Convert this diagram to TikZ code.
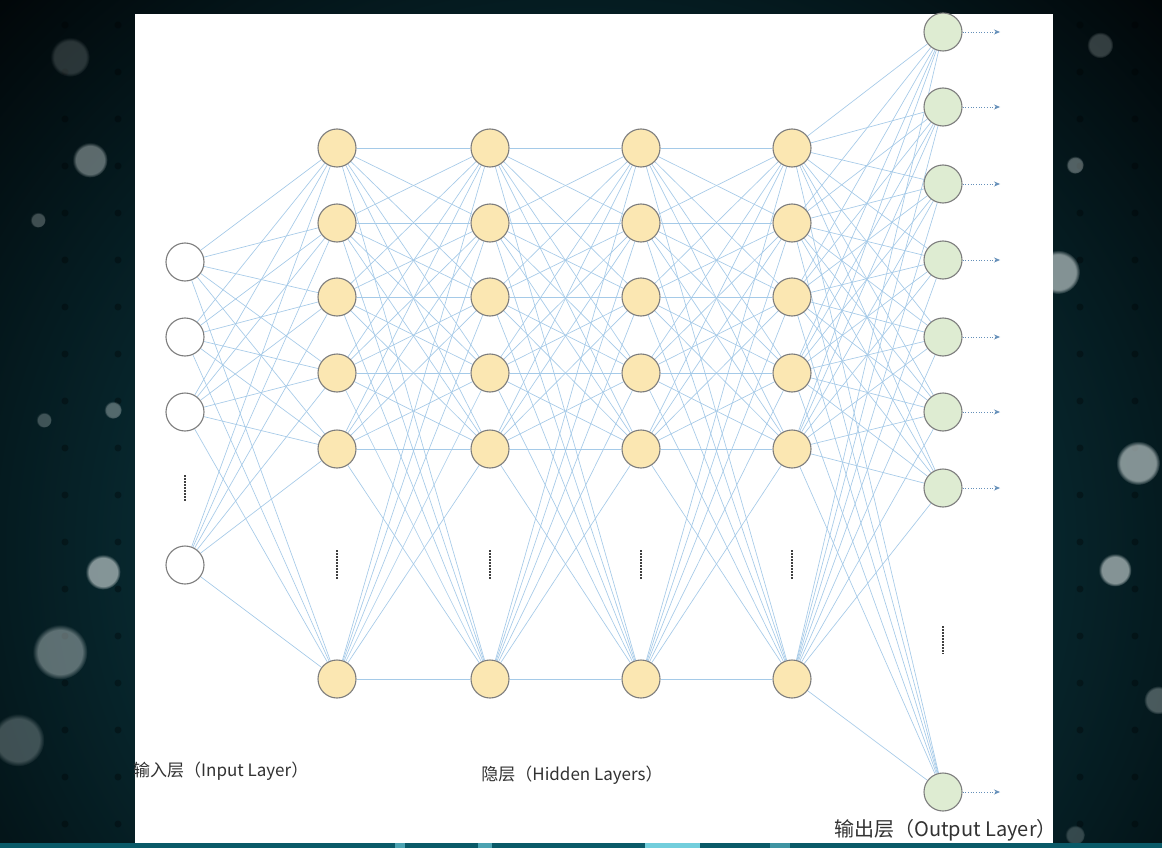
\documentclass[tikz,border=0pt]{standalone}
\usepackage{fontspec}
\setmainfont{Noto Sans CJK SC}
\usetikzlibrary{arrows.meta,fadings}
\pgfdeclarelayer{back}
\pgfdeclarelayer{edges}
\pgfsetlayers{back,edges,main}
\definecolor{linkblue}{RGB}{165,202,232}
\definecolor{hidfill}{RGB}{251,231,178}
\definecolor{outfill}{RGB}{222,236,210}
\definecolor{ringgray}{RGB}{125,125,125}
\definecolor{arrowblue}{RGB}{90,150,210}
\definecolor{bgteal}{RGB}{14,78,90}
\definecolor{bgdark}{RGB}{1,5,7}
\definecolor{stripteal}{RGB}{10,90,104}
\definecolor{stripcyan}{RGB}{140,235,250}
\definecolor{labelgray}{RGB}{50,50,50}
\definecolor{bokehgray}{RGB}{200,210,210}
\tikzset{
  neuron/.style={circle, draw=ringgray, line width=1.1pt, minimum size=38pt, inner sep=0pt},
  inneuron/.style={neuron, fill=white},
  hidneuron/.style={neuron, fill=hidfill},
  outneuron/.style={neuron, fill=outfill},
  link/.style={draw=linkblue, line width=0.65pt},
  outarrow/.style={draw=arrowblue!70!gray, line width=0.7pt, dotted, -{Stealth[length=6pt,width=5pt]}},
  vdots/.style={draw=black!75, line width=1.6pt, dash pattern=on 1.5pt off 1.5pt},
  layerlabel/.style={text=labelgray, inner sep=0pt},
}
\newcommand{\bokehdot}[4]{%
  \fill[bokehgray, opacity=#4, path fading=circle with fuzzy edge 20 percent] (#1,#2) circle (#3*1.1);
}
\begin{document}
\begin{tikzpicture}[x=1pt, y=-1pt]
\useasboundingbox (0,0) rectangle (1162,848);
\begin{pgfonlayer}{back}
  \fill[bgdark] (0,0) rectangle (1162,848);
  \shade[inner color=bgteal, outer color=bgdark] (-250,-250) rectangle (1412,1350);
  % dark dot grid
  \foreach \y in {25,72,...,840}{
    \fill[black, opacity=0.3] (65,\y) circle (3.5);
    \fill[black, opacity=0.3] (118,\y) circle (3.5);
    \fill[black, opacity=0.3] (1080,\y) circle (3.5);
    \fill[black, opacity=0.3] (1135,\y) circle (3.5);
  }
  \bokehdot{70}{57}{18}{0.2}
  \bokehdot{90}{160}{16}{0.45}
  \bokehdot{38}{220}{7}{0.3}
  \bokehdot{44}{420}{7}{0.3}
  \bokehdot{113}{410}{8}{0.4}
  \bokehdot{103}{572}{16}{0.65}
  \bokehdot{60}{652}{25}{0.45}
  \bokehdot{18}{740}{24}{0.3}
  \bokehdot{1100}{45}{12}{0.25}
  \bokehdot{1075}{165}{8}{0.4}
  \bokehdot{1058}{272}{20}{0.65}
  \bokehdot{1138}{463}{20}{0.65}
  \bokehdot{1115}{570}{15}{0.65}
  \bokehdot{1158}{700}{13}{0.35}
  \bokehdot{1075}{835}{9}{0.25}
  % bottom light strip
  \fill[stripteal] (0,843) rectangle (1162,848);
  \fill[stripcyan, opacity=0.8] (645,843) rectangle (700,848);
  \fill[stripcyan, opacity=0.5] (478,843) rectangle (492,848);
  \fill[stripcyan, opacity=0.5] (395,843) rectangle (405,848);
  \fill[stripcyan, opacity=0.4] (770,843) rectangle (790,848);
  \fill[white] (135,14) rectangle (1053,843);
\end{pgfonlayer}

% input layer
\node[inneuron] (i1) at (185,262) {};
\node[inneuron] (i2) at (185,337) {};
\node[inneuron] (i3) at (185,412) {};
\node[inneuron] (i4) at (185,565) {};
\draw[vdots] (185,475) -- (185,501);

% hidden layers
\foreach \l/\x in {1/337,2/490,3/641,4/792}{
  \foreach \k/\y in {1/148,2/223,3/297,4/373,5/449,6/679}{
    \node[hidneuron] (h\l\k) at (\x,\y) {};
  }
  \draw[vdots] (\x,550) -- (\x,580);
}

% output layer
\foreach \k/\y in {1/32,2/107,3/184,4/260,5/337,6/412,7/488,8/792}{
  \node[outneuron] (o\k) at (943,\y) {};
  \coordinate (t\k) at (1000,\y);
  \draw[outarrow] (o\k) -- (t\k);
}
\draw[vdots] (943,626) -- (943,654);

% connections
\begin{pgfonlayer}{edges}
  \foreach \a in {1,...,4}{
    \foreach \b in {1,...,6}{
      \draw[link] (i\a) -- (h1\b);
    }
  }
  \foreach \l/\m in {1/2,2/3,3/4}{
    \foreach \a in {1,...,6}{
      \foreach \b in {1,...,6}{
        \draw[link] (h\l\a) -- (h\m\b);
      }
    }
  }
  \foreach \a in {1,...,6}{
    \foreach \b in {1,...,8}{
      \draw[link] (h4\a) -- (o\b);
    }
  }
\end{pgfonlayer}

% labels
\node[layerlabel, anchor=west, font=\fontsize{17}{19}\selectfont] (lin) at (133,771) {输入层（Input Layer）};
\node[layerlabel, font=\fontsize{17}{19}\selectfont] (lhid) at (572,775) {隐层（Hidden Layers）};
\node[layerlabel, anchor=east, font=\fontsize{20}{22}\selectfont] (lout) at (1057,830) {输出层（Output Layer）};
\end{tikzpicture}
\end{document}
